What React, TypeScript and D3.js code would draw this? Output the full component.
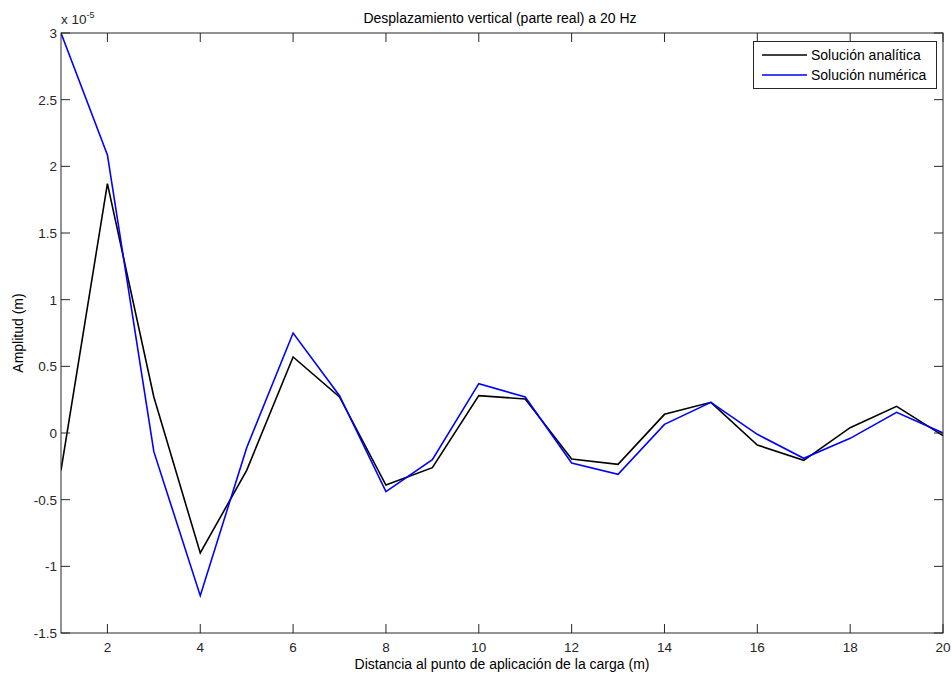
import React from "react";
import * as d3 from "d3";

const distances = [1, 2, 3, 4, 5, 6, 7, 8, 9, 10, 11, 12, 13, 14, 15, 16, 17, 18, 19, 20];
const analitica = [-0.28, 1.87, 0.27, -0.9, -0.28, 0.57, 0.27, -0.39, -0.26, 0.28, 0.255, -0.195, -0.235, 0.14, 0.23, -0.09, -0.205, 0.04, 0.2, -0.02];
const numerica = [3.0, 2.085, -0.14, -1.22, -0.11, 0.75, 0.28, -0.44, -0.2, 0.37, 0.27, -0.225, -0.31, 0.065, 0.23, -0.01, -0.19, -0.04, 0.155, 0.0];
const xTicks = [2, 4, 6, 8, 10, 12, 14, 16, 18, 20];
const yTicks = [-1.5, -1, -0.5, 0, 0.5, 1, 1.5, 2, 2.5, 3];
const seriesNames = ["Solución analítica", "Solución numérica"];
const seriesColors = ["#000000", "#0000ff"];

const W = 952, H = 675;
const L = 61, R = 943, T = 33, B = 633;
const font = "'Liberation Sans', Arial, sans-serif";
const axisColor = "#262626";

export default function App() {
  const x = d3.scaleLinear().domain([1, 20]).range([L, R]);
  const y = d3.scaleLinear().domain([-1.5, 3]).range([B, T]);
  const line = d3.line<number>().x((_, i) => x(distances[i])).y((d) => y(d));
  const series = [analitica, numerica];
  const tl = 9;
  return (
    <svg width={W} height={H} style={{ position: "absolute", left: 0, top: 0, background: "#fff" }}>
      <rect x={0} y={0} width={W} height={H} fill="#fff" />
      <defs>
        <clipPath id="pc"><rect x={L} y={T} width={R - L} height={B - T} /></clipPath>
      </defs>
      <g clipPath="url(#pc)">
        {series.map((s, i) => (
          <path key={i} d={line(s) || ""} fill="none" stroke={seriesColors[i]} strokeWidth={1.6} strokeLinejoin="miter" />
        ))}
      </g>
      <rect x={L} y={T} width={R - L} height={B - T} fill="none" stroke={axisColor} strokeWidth={1} />
      {xTicks.map((t) => (
        <g key={"x" + t}>
          <line x1={x(t)} x2={x(t)} y1={B} y2={B - tl} stroke={axisColor} />
          <line x1={x(t)} x2={x(t)} y1={T} y2={T + tl} stroke={axisColor} />
          <text x={x(t)} y={B + 19} textAnchor="middle" fontFamily={font} fontSize={13.5} fill={axisColor}>{t}</text>
        </g>
      ))}
      {yTicks.map((t) => (
        <g key={"y" + t}>
          <line x1={L} x2={L + tl} y1={y(t)} y2={y(t)} stroke={axisColor} />
          <line x1={R} x2={R - tl} y1={y(t)} y2={y(t)} stroke={axisColor} />
          <text x={L - 4} y={y(t) + 5} textAnchor="end" fontFamily={font} fontSize={13.5} fill={axisColor}>{String(t)}</text>
        </g>
      ))}
      <text x={L} y={24} fontFamily={font} fontSize={13.5} fill={axisColor}>
        x 10<tspan dy={-6} fontSize={9}>-5</tspan>
      </text>
      <text x={(L + R) / 2 - 2} y={23} textAnchor="middle" fontFamily={font} fontSize={14} fill="#000">Desplazamiento vertical (parte real) a 20 Hz</text>
      <text x={(L + R) / 2} y={669} textAnchor="middle" fontFamily={font} fontSize={14} fill="#000">Distancia al punto de aplicación de la carga (m)</text>
      <text transform={`translate(23, ${(T + B) / 2}) rotate(-90)`} textAnchor="middle" fontFamily={font} fontSize={14} fill="#000">Amplitud (m)</text>
      <g>
        <rect x={753.5} y={41.5} width={183} height={47} fill="#fff" stroke={axisColor} />
        {seriesNames.map((n, i) => (
          <g key={n}>
            <line x1={762} x2={807} y1={55 + i * 20} y2={55 + i * 20} stroke={seriesColors[i]} strokeWidth={1.6} />
            <text x={811} y={60 + i * 20} fontFamily={font} fontSize={14} fill="#000">{n}</text>
          </g>
        ))}
      </g>
    </svg>
  );
}
